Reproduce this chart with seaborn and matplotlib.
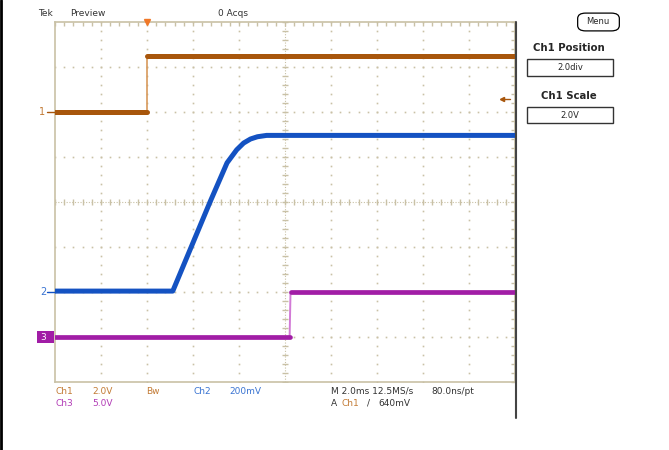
import numpy as np
import pandas as pd
import matplotlib
matplotlib.use("Agg")
import matplotlib.pyplot as plt
import seaborn as sns
from matplotlib.lines import Line2D
from matplotlib.patches import Rectangle, FancyBboxPatch

# Data, in screen divisions (10 x 8 graticule, centre = 0)
ch1_t = [0.0, 2.0, 2.0, 10.0]
ch1_v = [2.0, 2.0, 3.25, 3.25]

ch2_t = [0.0, 2.56, 3.37, 3.74, 3.95, 4.10, 4.25, 4.40, 4.60, 10.0]
ch2_v = [-1.98, -1.98, 0.0, 0.87, 1.16, 1.31, 1.40, 1.45, 1.48, 1.48]

ch3_t = [0.0, 5.10, 5.12, 10.0]
ch3_v = [-3.01, -3.01, -2.0, -2.0]

trig_level = 2.3
trig_pos = 2.0

c1 = "#a8560c"
c2 = "#1452c2"
c3 = "#a11da6"
c1_txt = "#c27a34"
c2_txt = "#3a74d2"
c3_txt = "#b23cb6"
tan = "#c9c1a6"

W, H = 669, 450
sns.set_style("white")
plt.rcParams['font.family'] = ['DejaVu Sans']

fig = plt.figure(figsize=(W / 100, H / 100), dpi=100)
ax = fig.add_axes([55 / W, 68 / H, 460 / W, 360 / H])
ax.set_xlim(0, 10)
ax.set_ylim(-4, 4)

# graticule: dotted division lines
minor = np.arange(0, 10.001, 0.2)
minor_y = np.arange(-4, 4.001, 0.2)
for gx in range(1, 10):
    if gx != 5:
        ax.plot(np.full_like(minor_y, gx), minor_y, ls="none", marker="s",
                ms=1.2, mew=0, color=tan, zorder=1)
for gy in range(-3, 4):
    if gy != 0:
        ax.plot(minor, np.full_like(minor, gy), ls="none", marker="s",
                ms=1.2, mew=0, color=tan, zorder=1)
# centre lines with ticks
ax.axvline(5, color=tan, lw=0.8, ls=(0, (1, 1.5)), zorder=1)
ax.axhline(0, color=tan, lw=0.8, ls=(0, (1, 1.5)), zorder=1)
ax.plot(minor, np.zeros_like(minor), ls="none", marker="|", ms=5, mew=1,
        color=tan, zorder=1)
ax.plot(np.full_like(minor_y, 5), minor_y, ls="none", marker="_", ms=5, mew=1,
        color=tan, zorder=1)

ax.set_xticks(minor)
ax.set_yticks(minor_y)
ax.tick_params(direction="in", length=3, width=1, color=tan,
               top=True, right=True, labelbottom=False, labelleft=False)
for s in ax.spines.values():
    s.set_color(tan)
    s.set_linewidth(1.2)

# traces
edge1 = pd.DataFrame({"t": ch1_t[1:3], "v": ch1_v[1:3]})
sns.lineplot(data=edge1, x="t", y="v", sort=False, estimator=None,
             color="#d89a5c", lw=1.2, ax=ax, zorder=3)
for i in (0, 2):
    seg = pd.DataFrame({"t": ch1_t[i:i + 2], "v": ch1_v[i:i + 2]})
    sns.lineplot(data=seg, x="t", y="v", sort=False, estimator=None,
                 color=c1, lw=3.6, ax=ax, zorder=4)

df2 = pd.DataFrame({"t": ch2_t, "v": ch2_v})
sns.lineplot(data=df2, x="t", y="v", sort=False, estimator=None,
             color=c2, lw=3.6, ax=ax, zorder=4)

edge3 = pd.DataFrame({"t": ch3_t[1:3], "v": ch3_v[1:3]})
sns.lineplot(data=edge3, x="t", y="v", sort=False, estimator=None,
             color="#d27ad6", lw=1.4, ax=ax, zorder=3)
for i in (0, 2):
    seg = pd.DataFrame({"t": ch3_t[i:i + 2], "v": ch3_v[i:i + 2]})
    sns.lineplot(data=seg, x="t", y="v", sort=False, estimator=None,
                 color=c3, lw=3.4, ax=ax, zorder=4)
ax.set_xlabel("")
ax.set_ylabel("")

# trigger marks
ax.plot([trig_pos], [4], marker="v", ms=5, color="#f07828", clip_on=False, zorder=6)
ax.plot([9.72, 9.9], [trig_level, trig_level], color=c1, lw=1, zorder=6)
ax.plot([9.72], [trig_level], marker="<", ms=3, color=c1, zorder=6)

# channel markers on the left
def px(x, y):
    return x / W, 1 - y / H

fs = 6.5
fig.text(*px(42, 112), "1", color=c1_txt, fontsize=fs + 0.5, ha="center", va="center")
fig.add_artist(Line2D([47 / W, 55 / W], [1 - 112 / H] * 2, color=c1, lw=1))
fig.text(*px(43, 292), "2", color=c2_txt, fontsize=fs + 0.5, ha="center", va="center")
fig.add_artist(Line2D([47 / W, 55 / W], [1 - 292 / H] * 2, color=c2, lw=1))
fig.add_artist(Rectangle(px(37, 343), 17 / W, 12 / H, color=c3, lw=0))
fig.text(*px(43, 337), "3", color="white", fontsize=fs, ha="center", va="center")

# header
fig.text(*px(38, 13), "Tek", color="#333333", fontsize=fs, va="center")
fig.text(*px(70, 13), "Preview", color="#333333", fontsize=fs, va="center")
fig.text(*px(218, 13), "0 Acqs", color="#333333", fontsize=fs, va="center")

# footer readouts
fig.text(*px(55, 391), "Ch1", color=c1_txt, fontsize=fs, va="center")
fig.text(*px(92, 391), "2.0V", color=c1_txt, fontsize=fs, va="center")
fig.text(*px(146, 391), "Bw", color=c1_txt, fontsize=fs, va="center")
fig.text(*px(193, 391), "Ch2", color=c2_txt, fontsize=fs, va="center")
fig.text(*px(229, 391), "200mV", color=c2_txt, fontsize=fs, va="center")
fig.text(*px(331, 391), "M 2.0ms 12.5MS/s", color="#333333", fontsize=fs, va="center")
fig.text(*px(431, 391), "80.0ns/pt", color="#333333", fontsize=fs, va="center")
fig.text(*px(55, 403), "Ch3", color=c3_txt, fontsize=fs, va="center")
fig.text(*px(92, 403), "5.0V", color=c3_txt, fontsize=fs, va="center")
fig.text(*px(331, 403), "A", color="#333333", fontsize=fs, va="center")
fig.text(*px(342, 403), "Ch1", color=c1_txt, fontsize=fs, va="center")
fig.text(*px(367, 403), "/", color="#333333", fontsize=fs, va="center")
fig.text(*px(378, 403), "640mV", color="#333333", fontsize=fs, va="center")

# right-hand menu panel
fig.add_artist(Line2D([516 / W] * 2, [1 - 22 / H, 1 - 418 / H], color="#444444", lw=1.5))
fig.add_artist(Line2D([1 / W] * 2, [0, 1], color="black", lw=2))
fig.add_artist(FancyBboxPatch(px(579, 30), 39 / W, 16 / H,
                              boxstyle="round,pad=0.002,rounding_size=0.012",
                              fc="white", ec="black", lw=0.9))
fig.text(*px(598, 22), "Menu", fontsize=fs - 0.5, ha="center", va="center")
fig.text(*px(569, 48), "Ch1 Position", fontsize=fs + 0.8, weight="bold",
         ha="center", va="center")
fig.add_artist(Rectangle(px(527, 76), 86 / W, 17 / H, fc="white", ec="#333333", lw=1))
fig.text(*px(570, 68), "2.0div", fontsize=fs - 0.5, ha="center", va="center")
fig.text(*px(569, 96), "Ch1 Scale", fontsize=fs + 0.8, weight="bold",
         ha="center", va="center")
fig.add_artist(Rectangle(px(527, 123), 86 / W, 16 / H, fc="white", ec="#333333", lw=1))
fig.text(*px(570, 115), "2.0V", fontsize=fs - 0.5, ha="center", va="center")

fig.savefig("out.png", dpi=100)
